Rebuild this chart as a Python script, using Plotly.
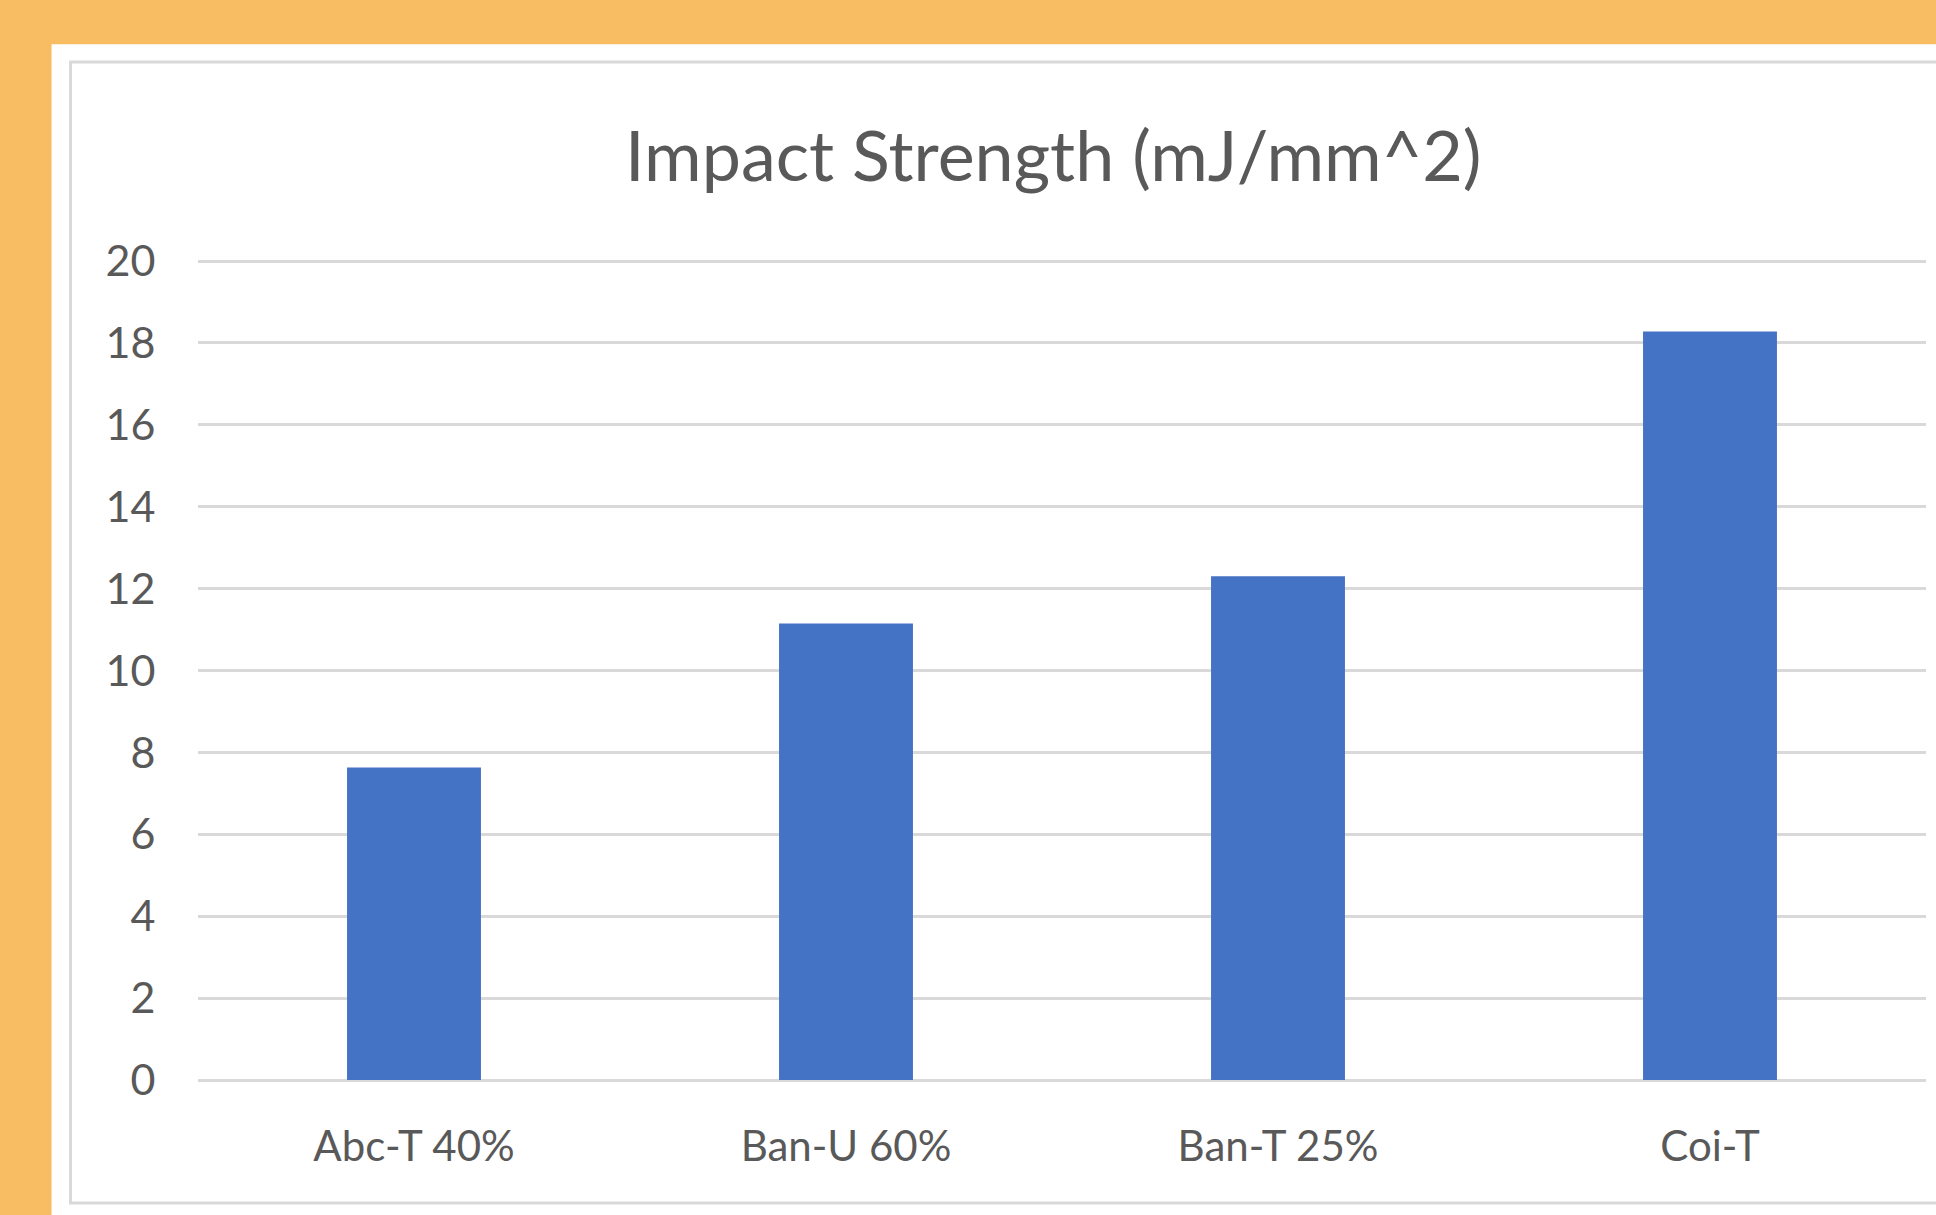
import plotly.graph_objects as go

# Impact strength per material sample
categories = ["Abc-T 40%", "Ban-U 60%", "Ban-T 25%", "Coi-T"]
impact_strength = [7.63, 11.15, 12.3, 18.28]
y_ticks = [0, 2, 4, 6, 8, 10, 12, 14, 16, 18, 20]

W, H = 1936, 1215
PLOT_L, PLOT_R = 197.5, 1926
PLOT_T, PLOT_B = 256.9, 1080
Y_MAX = 20.1  # a little headroom so the top gridline is drawn

TEXT = "#595959"
GRID = "#D9D9D9"
FONT = "Lato, 'Open Sans', sans-serif"


def paper_x(px):
    return (px - PLOT_L) / (PLOT_R - PLOT_L)


def paper_y(py):
    return (PLOT_B - py) / (PLOT_B - PLOT_T)


fig = go.Figure(
    go.Bar(
        x=categories,
        y=impact_strength,
        marker=dict(color="#4472C4", line=dict(width=0)),
        hoverinfo="x+y",
    )
)

fig.update_layout(
    width=W,
    height=H,
    autosize=False,
    margin=dict(l=PLOT_L, r=W - PLOT_R, t=PLOT_T, b=H - PLOT_B, pad=0),
    paper_bgcolor="#F8BC63",
    plot_bgcolor="rgba(0,0,0,0)",
    bargap=0.69,
    showlegend=False,
    font=dict(family=FONT, color=TEXT),
    xaxis=dict(
        showgrid=False,
        showline=False,
        zeroline=False,
        ticks="outside",
        ticklen=30,
        tickcolor="rgba(0,0,0,0)",
        tickfont=dict(size=42, color=TEXT, family=FONT),
    ),
    yaxis=dict(
        range=[0, Y_MAX],
        tickvals=y_ticks,
        showgrid=True,
        gridcolor=GRID,
        gridwidth=3,
        zeroline=True,
        zerolinecolor=GRID,
        zerolinewidth=3,
        showline=False,
        ticks="outside",
        ticklen=33,
        tickcolor="rgba(0,0,0,0)",
        tickfont=dict(size=43, color=TEXT, family=FONT),
    ),
    shapes=[
        # white chart panel
        dict(
            type="rect", xref="paper", yref="paper", layer="below",
            x0=paper_x(51), x1=paper_x(W + 20),
            y0=paper_y(H + 20), y1=paper_y(44),
            fillcolor="white", line=dict(width=0),
        ),
        # chart area border
        dict(
            type="rect", xref="paper", yref="paper", layer="below",
            x0=paper_x(70), x1=paper_x(W + 20),
            y0=paper_y(1203), y1=paper_y(62),
            fillcolor="rgba(0,0,0,0)", line=dict(color=GRID, width=3),
        ),
    ],
    annotations=[
        dict(
            text="Impact Strength (mJ/mm^2)",
            xref="paper", yref="paper",
            x=paper_x(1053), y=paper_y(154),
            xanchor="center", yanchor="middle",
            showarrow=False,
            font=dict(size=70, color=TEXT, family=FONT),
        )
    ],
)

fig.write_html("out.html")
